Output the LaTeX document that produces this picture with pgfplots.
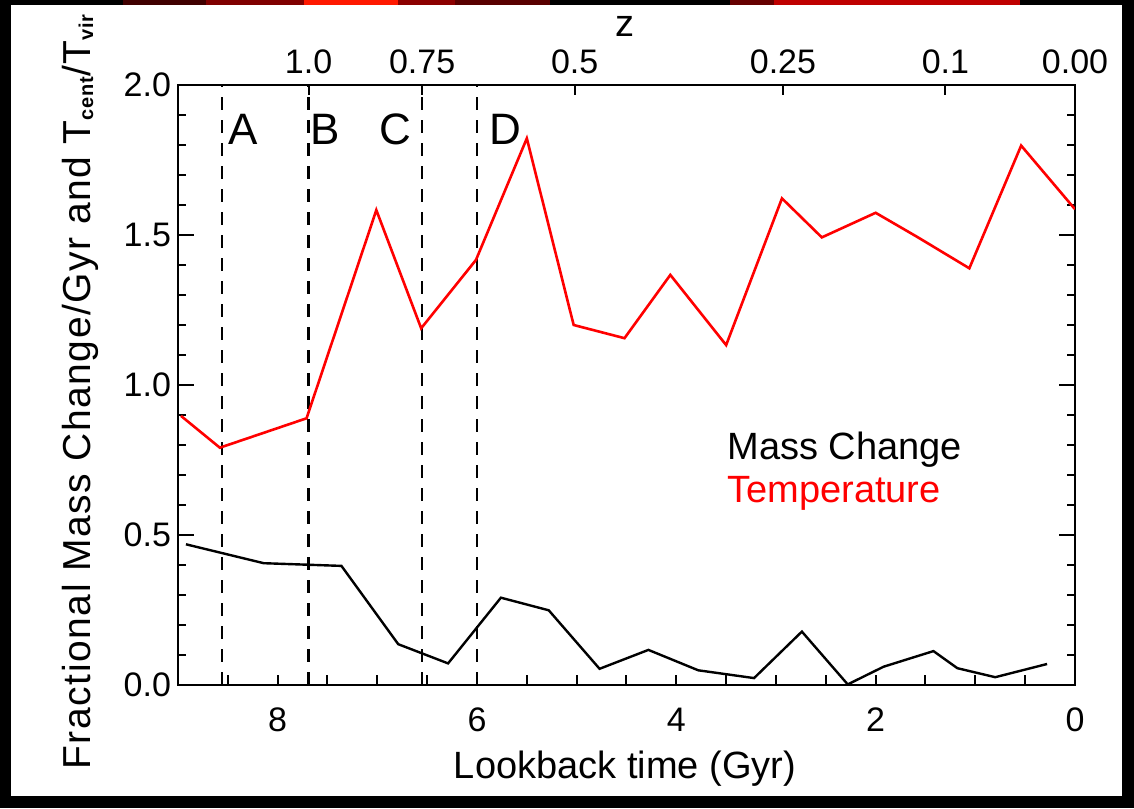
\documentclass[border=0pt]{standalone}
\usepackage{fontspec}
\setmainfont{Liberation Sans}
\usepackage{pgfplots}
\pgfplotsset{compat=1.18}

% Temperature (T_cent/T_vir) against lookback time
\pgfplotstableread{
t     v
8.97  0.897
8.58  0.791
7.71  0.889
7.01  1.583
6.56  1.189
6.01  1.417
5.50  1.822
5.03  1.200
4.52  1.156
4.06  1.367
3.50  1.133
2.94  1.622
2.54  1.492
2.00  1.574
1.585 1.494
1.06  1.389
0.54  1.798
0.00  1.586
}\temptable

% Fractional mass change per Gyr against lookback time
\pgfplotstableread{
t     v
8.92  0.469
8.14  0.406
7.36  0.397
6.79  0.136
6.29  0.072
5.76  0.291
5.28  0.249
4.77  0.054
4.28  0.117
3.78  0.049
3.22  0.023
2.74  0.178
2.28  0.002
1.92  0.061
1.42  0.113
1.18  0.056
0.80  0.026
0.28  0.070
}\masstable

\pgfplotsset{
  frame/.style={
    at={(89pt,61.5pt)}, anchor=south west, scale only axis,
    width=448.5pt, height=300pt,
    xmin=0, xmax=9, x dir=reverse, ymin=0, ymax=2,
    tick align=inside,
    /pgf/number format/assume math mode=true,
    ticklabel style={font=\fontsize{17}{17}\selectfont},
    tick style={black, line width=1pt},
  },
  epoch/.style={black, line width=1.2pt, dash pattern=on 6.5pt off 5pt},
}

\begin{document}
\begin{tikzpicture}
\useasboundingbox (0,0) rectangle (567pt,404pt);
\fill[black] (0,0) rectangle (567pt,404pt);
% strip of the slide background above the figure
\fill[red!25!black]        (61.5pt,401.5pt) rectangle (103pt,404pt);
\fill[red!50!black]        (103pt,401.5pt) rectangle (152pt,404pt);
\fill[red!80!orange]       (152pt,401.5pt) rectangle (199pt,404pt);
\fill[red!55!black]        (199pt,401.5pt) rectangle (227.5pt,404pt);
\fill[red!35!black]        (227.5pt,401.5pt) rectangle (275pt,404pt);
\fill[red!40!black]        (365pt,401.5pt) rectangle (387pt,404pt);
\fill[red!75!black]        (387pt,401.5pt) rectangle (510pt,404pt);
\fill[white] (5.5pt,6pt) rectangle (561pt,401.5pt);

% main frame: data and the y axes
\begin{axis}[frame,
  axis line style={line width=1.4pt},
  xtick=\empty,
  ytick={0,0.5,1,1.5,2}, yticklabels={0.0,0.5,1.0,1.5,2.0},
  minor y tick num=4,
  major tick length=8pt, minor tick length=4pt,
]
\addplot[epoch] coordinates {(8.56,0) (8.56,2)};
\addplot[epoch] coordinates {(7.69,0) (7.69,2)};
\addplot[epoch] coordinates {(6.55,0) (6.55,2)};
\addplot[epoch] coordinates {(6.00,0) (6.00,2)};
\addplot[red, line width=1.3pt] table[x=t, y=v] {\temptable};
\addplot[black, line width=1.2pt] table[x=t, y=v] {\masstable};
\end{axis}

% lookback time ticks along the bottom
\begin{axis}[frame,
  axis line style={draw=none},
  ytick=\empty,
  xtick={0,2,4,6,8}, xticklabels={0,2,4,6,8},
  minor xtick={0.5,1,...,8.5},
  xtick pos=bottom,
  major tick length=5pt, minor tick length=5pt,
  xticklabel style={yshift=-8pt},
]
\end{axis}

% redshift ticks along the top
\begin{axis}[frame,
  axis line style={draw=none},
  ytick=\empty,
  xtick={7.69,6.55,5.02,2.93,1.30,0},
  xticklabels={1.0,0.75,0.5,0.25,0.1,0.00},
  xtick pos=top, xticklabel pos=top,
  major tick length=5pt,
  xticklabel style={yshift=2pt},
]
\end{axis}

% epoch labels
\begin{scope}[every node/.style={font=\fontsize{22}{22}\selectfont, anchor=base west, inner sep=0pt}]
\node at (114pt,331.5pt) {A};
\node at (155pt,331.5pt) {B};
\node at (189.5pt,331.5pt) {C};
\node at (244.5pt,331.5pt) {D};
\end{scope}

% key
\node[font=\fontsize{19}{19}\selectfont, anchor=base west, inner sep=0pt] at (363.5pt,174pt) {Mass Change};
\node[font=\fontsize{19}{19}\selectfont, anchor=base west, inner sep=0pt, text=red] at (363.5pt,152.5pt) {Temperature};

% axis titles
\node[font=\fontsize{19}{19}\selectfont, anchor=base, inner sep=0pt] at (312.5pt,15pt) {Lookback time (Gyr)};
\node[font=\fontsize{19}{19}\selectfont, anchor=base, inner sep=0pt] at (312.5pt,385.5pt) {z};
\node[font=\fontsize{19.5}{19.5}\selectfont\addfontfeature{LetterSpace=4}, anchor=base, inner sep=0pt, rotate=90] at (45pt,208pt)
  {Fractional Mass Change/Gyr and T\raisebox{-0.15ex}{\fontsize{10}{10}\selectfont\bfseries cent}/T\raisebox{-0.15ex}{\fontsize{10}{10}\selectfont\bfseries vir}};
\end{tikzpicture}
\end{document}
